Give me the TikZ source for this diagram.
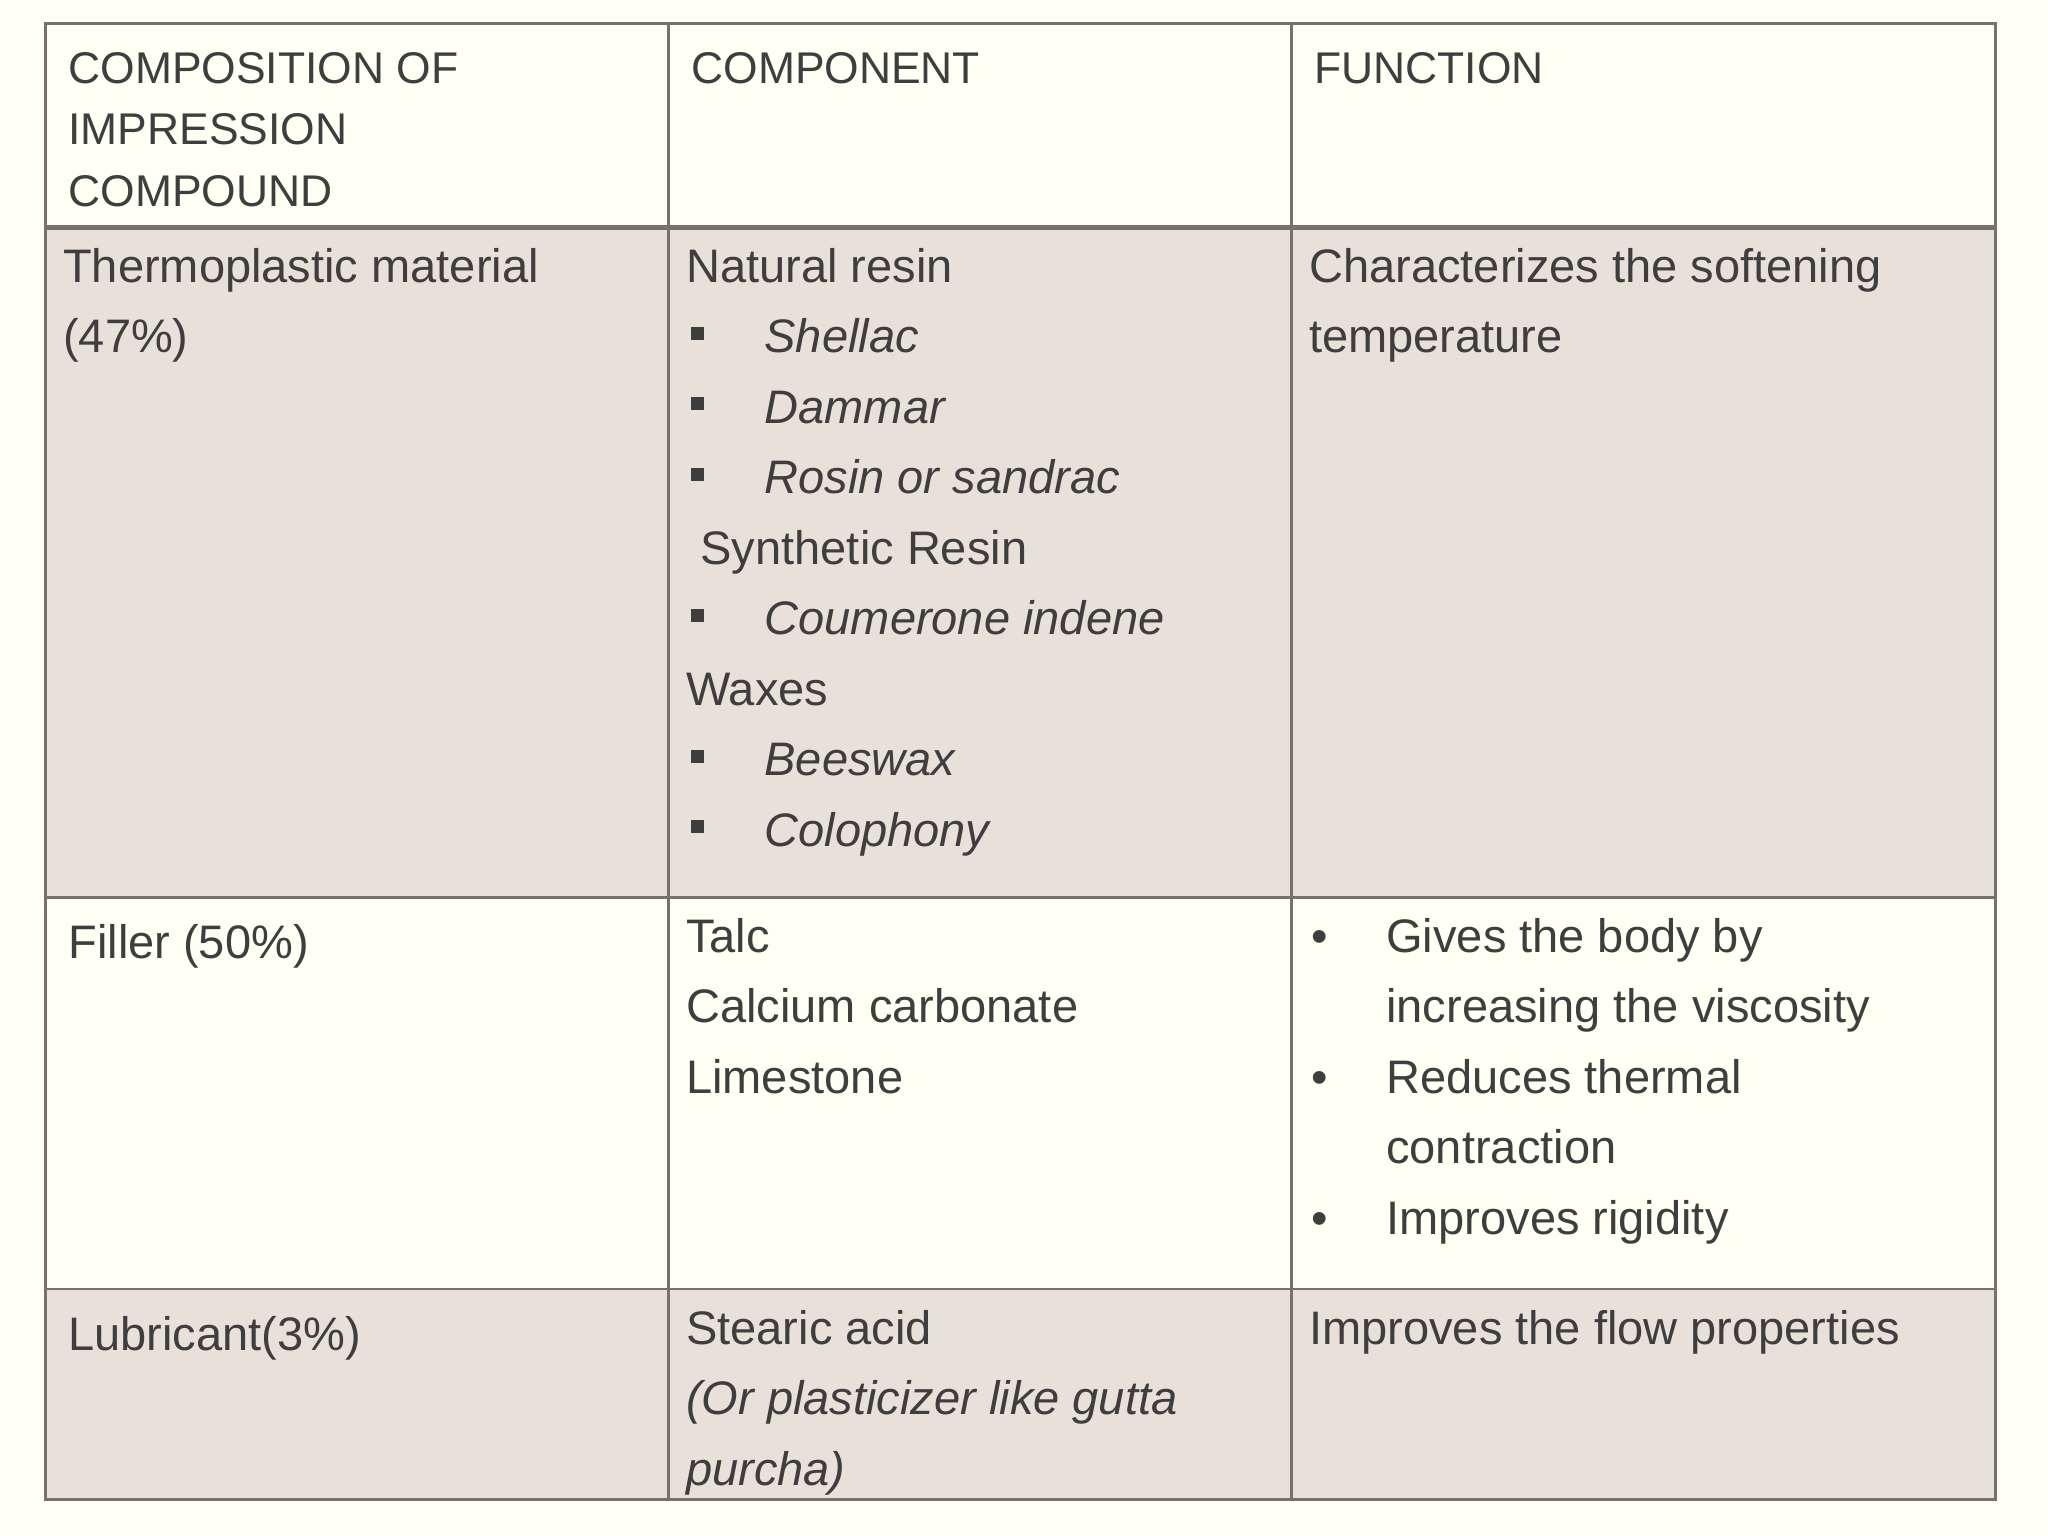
\documentclass[tikz,border=0pt]{standalone}
\usepackage{fontspec}
\setmainfont{Liberation Sans}
\definecolor{bg}{HTML}{FFFFF3}
\definecolor{tp}{HTML}{E8E1DA}
\definecolor{ln}{HTML}{7A706A}
\definecolor{tx}{HTML}{3E3E3E}
\begin{document}
\begin{tikzpicture}[x=0.5pt,y=-0.5pt,
  t/.style={anchor=base west,inner sep=0pt,text=tx,font=\fontsize{18}{22}\selectfont},
  h/.style={anchor=base west,inner sep=0pt,text=tx,font=\fontsize{17}{22}\selectfont},
  it/.style={t,font=\fontsize{18}{22}\selectfont\itshape},
  sq/.style={fill=tx,minimum size=5pt,inner sep=0pt}]
\fill[bg] (0,0) rectangle (1568,1176);
\useasboundingbox (0,0) rectangle (1568,1176);
\fill[tp] (35,174) rectangle (1528,687);
\fill[tp] (35,987) rectangle (1528,1148);
\draw[ln,line width=1pt] (35,18) rectangle (1528,1148);
\draw[ln,line width=1pt] (512,18) -- (512,1148) (989,18) -- (989,1148)
  (35,687) -- (1528,687) (35,987) -- (1528,987);
\draw[ln,line width=1.8pt] (35,174) -- (1528,174);
% header
\node[h] (h1) at (52,64) {COMPOSITION OF};
\node[h] (h2) at (52,111) {IMPRESSION};
\node[h] (h3) at (52,158) {COMPOUND};
\node[h] (h4) at (529,64) {COMPONENT};
\node[h] (h5) at (1006,64) {FUNCTION};
% row 1
\node[t] (a1) at (48,216) {Thermoplastic material};
\node[t] (a2) at (48,270) {(47\%)};
\node[t] (b1) at (525,216) {Natural resin};
\node[sq] (s1) at (534,255) {};\node[it] (b2) at (585,270) {Shellac};
\node[sq] (s2) at (534,309) {};\node[it] (b3) at (585,324) {Dammar};
\node[sq] (s3) at (534,363) {};\node[it] (b4) at (585,378) {Rosin or sandrac};
\node[t] (b5) at (536,432) {Synthetic Resin};
\node[sq] (s4) at (534,471) {};\node[it] (b6) at (585,486) {Coumerone indene};
\node[t] (b7) at (525,540) {Waxes};
\node[sq] (s5) at (534,579) {};\node[it] (b8) at (585,594) {Beeswax};
\node[sq] (s6) at (534,633) {};\node[it] (b9) at (585,648) {Colophony};
\node[t] (c1) at (1002,216) {Characterizes the softening};
\node[t] (c2) at (1002,270) {temperature};
% row 2
\node[t] (d1) at (52,734) {Filler (50\%)};
\node[t] (e1) at (525,729) {Talc};
\node[t] (e2) at (525,783) {Calcium carbonate};
\node[t] (e3) at (525,837) {Limestone};
\node[t] (f0) at (1004,729) {•};\node[t] (f1) at (1061,729) {Gives the body by};
\node[t] (f2) at (1061,783) {increasing the viscosity};
\node[t] (g0) at (1004,837) {•};\node[t] (f3) at (1061,837) {Reduces thermal};
\node[t] (f4) at (1061,891) {contraction};
\node[t] (g1) at (1004,945) {•};\node[t] (f5) at (1061,945) {Improves rigidity};
% row 3
\node[t] (k1) at (52,1034) {Lubricant(3\%)};
\node[t] (l1) at (525,1029) {Stearic acid};
\node[it] (l2) at (525,1083) {(Or plasticizer like gutta};
\node[it] (l3) at (525,1137) {purcha)};
\node[t] (m1) at (1002,1029) {Improves the flow properties};
\end{tikzpicture}
\end{document}
